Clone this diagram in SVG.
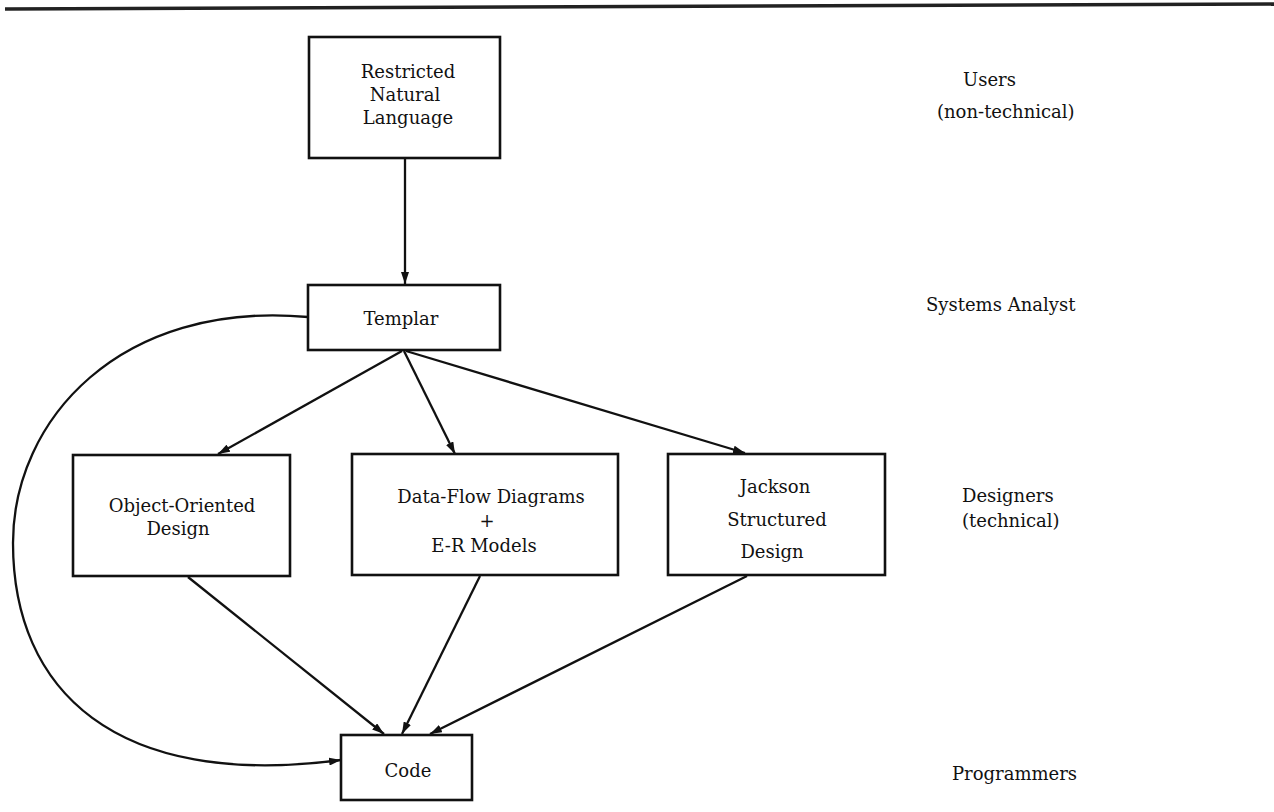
<svg xmlns="http://www.w3.org/2000/svg" width="1274" height="812" viewBox="0 0 1274 812">
<style>
.box{fill:#fff;stroke:#111;stroke-width:2.6}
.t{font-family:"DejaVu Serif","Liberation Serif",serif;font-size:18px;fill:#111;text-anchor:middle}
.lbl{font-family:"DejaVu Serif","Liberation Serif",serif;font-size:18px;fill:#111}
.c{fill:none;stroke:#111;stroke-width:2.3}
</style>
<defs>
<marker id="ah" viewBox="0 0 12 8" refX="12" refY="4" markerWidth="12" markerHeight="8" markerUnits="userSpaceOnUse" orient="auto">
<path d="M0,0 L12,4 L0,8 Z" fill="#111"/>
</marker>
</defs>
<rect width="1274" height="812" fill="#fff"/>
<line x1="5" y1="9" x2="1274" y2="4" stroke="#222" stroke-width="3.5"/>
<g id="connectors">
<path class="c" d="M405,158 L405,284" marker-end="url(#ah)"/>
<path class="c" d="M402,351 L218,454" marker-end="url(#ah)"/>
<path class="c" d="M404,351 L455,454" marker-end="url(#ah)"/>
<path class="c" d="M406,351 L745,453" marker-end="url(#ah)"/>
<path class="c" d="M188,577 L384,734" marker-end="url(#ah)"/>
<path class="c" d="M480,576 L402,734" marker-end="url(#ah)"/>
<path class="c" d="M747,576 L430,734" marker-end="url(#ah)"/>
<path class="c" d="M308,317 C120,300 13,420 13,543 C13,690 115,790 341,760" marker-end="url(#ah)"/>
</g>
<g id="n-restricted">
<rect class="box" x="309" y="37" width="191" height="121"/>
<text class="t" x="408" y="78">Restricted</text>
<text class="t" x="405" y="101">Natural</text>
<text class="t" x="408" y="124">Language</text>
</g>
<g id="n-templar">
<rect class="box" x="308" y="285" width="192" height="65"/>
<text class="t" x="401" y="325">Templar</text>
</g>
<g id="n-ood">
<rect class="box" x="73" y="455" width="217" height="121"/>
<text class="t" x="182" y="512">Object-Oriented</text>
<text class="t" x="178" y="535">Design</text>
</g>
<g id="n-dfd">
<rect class="box" x="352" y="454" width="266" height="121"/>
<text class="t" x="491" y="503">Data-Flow Diagrams</text>
<text class="t" x="487" y="527">+</text>
<text class="t" x="484" y="552">E-R Models</text>
</g>
<g id="n-jsd">
<rect class="box" x="668" y="454" width="217" height="121"/>
<text class="t" x="775" y="493">Jackson</text>
<text class="t" x="777" y="526">Structured</text>
<text class="t" x="772" y="558">Design</text>
</g>
<g id="n-code">
<rect class="box" x="341" y="735" width="131" height="65"/>
<text class="t" x="408" y="777">Code</text>
</g>
<g id="labels">
<text class="lbl" x="963" y="86">Users</text>
<text class="lbl" x="937" y="118">(non-technical)</text>
<text class="lbl" x="926" y="311">Systems Analyst</text>
<text class="lbl" x="962" y="502">Designers</text>
<text class="lbl" x="962" y="527">(technical)</text>
<text class="lbl" x="952" y="780">Programmers</text>
</g>
</svg>
